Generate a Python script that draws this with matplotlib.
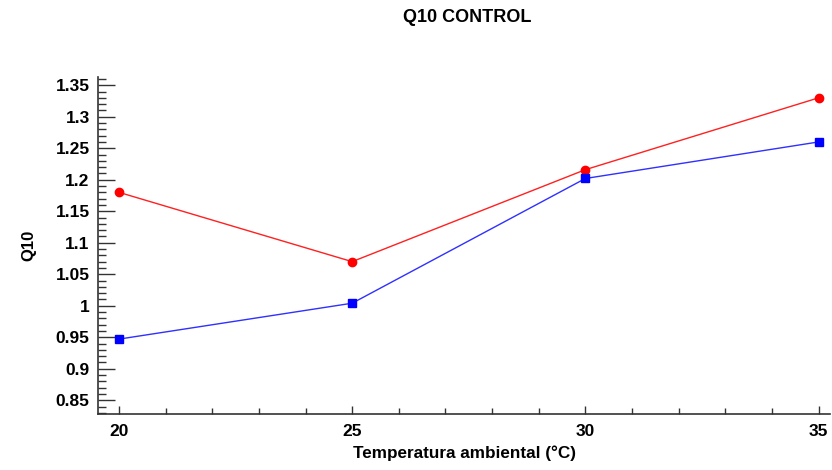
import matplotlib
matplotlib.use("Agg")
import matplotlib.pyplot as plt
from matplotlib.ticker import MultipleLocator

plt.rcParams['font.family'] = ['Liberation Sans', 'DejaVu Sans']
plt.rcParams['font.weight'] = 'bold'

# temperaturas y Q10 de cada serie
temp = [20, 25, 30, 35]
q10_rojo = [1.18, 1.07, 1.216, 1.33]
q10_azul = [0.947, 1.004, 1.202, 1.26]

fig = plt.figure(figsize=(8.32, 4.70), dpi=100)
ax = fig.add_axes([0.1178, 0.119, 0.88, 0.717])

ax.plot(temp, q10_rojo, color='#ff2020', lw=1.0, marker='o', ms=6,
        mfc='red', mec='red')
ax.plot(temp, q10_azul, color='#3030ff', lw=1.0, marker='s', ms=6,
        mfc='blue', mec='blue')

ax.set_xlim(19.55, 35.25)
ax.set_ylim(0.828, 1.363)
ax.xaxis.set_major_locator(MultipleLocator(5))
ax.xaxis.set_minor_locator(MultipleLocator(1))
ax.yaxis.set_major_locator(MultipleLocator(0.05))
ax.yaxis.set_minor_locator(MultipleLocator(0.01))

def fmt(v, pos):
    s = f'{v:.2f}'.rstrip('0').rstrip('.')
    return s
ax.yaxis.set_major_formatter(plt.FuncFormatter(fmt))

for s in ['top', 'right']:
    ax.spines[s].set_visible(False)
for s in ['left', 'bottom']:
    ax.spines[s].set_color('#333333')
    ax.spines[s].set_linewidth(1.2)

# eje y: marcas largas hacia dentro; eje x: marcas cortas
ax.tick_params(axis='y', which='major', direction='in', length=12,
               width=1.0, color='#333333', labelsize=12.5, pad=6)
ax.tick_params(axis='y', which='minor', direction='in', length=6,
               width=1.0, color='#333333')
ax.tick_params(axis='x', which='major', direction='in', length=6,
               width=1.0, color='#333333', labelsize=12.5, pad=7)
ax.tick_params(axis='x', which='minor', direction='in', length=4,
               width=1.0, color='#333333')
for lab in ax.get_xticklabels() + ax.get_yticklabels():
    lab.set_fontweight('bold')

ax.set_xlabel('Temperatura ambiental (°C)', fontsize=12.3, fontweight='bold',
              labelpad=5)
ax.set_ylabel('Q10', fontsize=12, fontweight='bold', labelpad=14)
fig.suptitle('Q10 CONTROL', fontsize=13, fontweight='bold', x=0.562, y=0.98)

fig.savefig('out.png', dpi=100)
